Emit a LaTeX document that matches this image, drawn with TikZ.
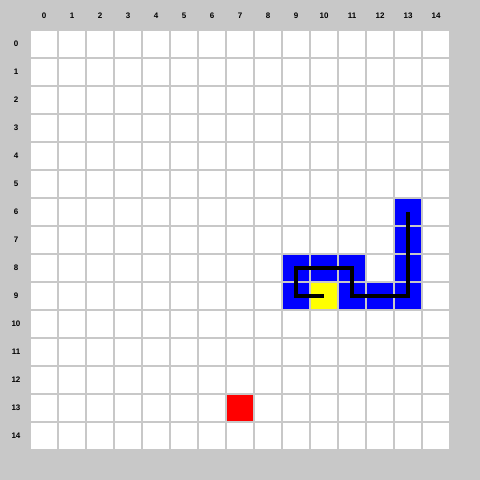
\documentclass[tikz,border=0pt]{standalone}
\usepackage{fontspec}
\setmainfont{Liberation Sans}
\definecolor{bggray}{RGB}{200,200,200}
\definecolor{snakeblue}{RGB}{0,0,255}
\definecolor{headyellow}{RGB}{255,255,0}
\definecolor{foodred}{RGB}{255,0,0}
\tikzset{
  cell/.style={fill=white,draw=none,minimum size=26pt,inner sep=0pt,outer sep=0pt},
  body/.style={cell,fill=snakeblue},
  head/.style={cell,fill=headyellow},
  food/.style={cell,fill=foodred},
  lbl/.style={font=\fontsize{8}{9}\selectfont\bfseries,inner sep=0pt},
  snakeline/.style={line width=4pt,draw=black,line cap=butt,line join=miter}
}
\begin{document}
\begin{tikzpicture}[x=1pt,y=-1pt]
\fill[bggray] (0,0) rectangle (480,480);
\useasboundingbox (0,0) rectangle (480,480);
\foreach \c in {0,...,14}{
  \node[lbl] (col\c) at ({44+28*\c},16) {\c};
  \node[lbl] (row\c) at (16,{44+28*\c}) {\c};
  \foreach \r in {0,...,14}{
    \node[cell] (c-\c-\r) at ({44+28*\c},{44+28*\r}) {};
  }
}
\foreach \c/\r in {13/6,13/7,9/8,10/8,11/8,13/8,9/9,11/9,12/9,13/9}{
  \node[body] at (c-\c-\r) {};
}
\node[head] at (c-10-9) {};
\node[food] at (c-7-13) {};
\draw[snakeline,xshift=1pt,yshift=-1pt] (c-13-6.center) -- (c-13-9.center) -- (c-11-9.center) -- (c-11-8.center)
  -- (c-9-8.center) -- (c-9-9.center) -- (c-10-9.center);
\end{tikzpicture}
\end{document}
